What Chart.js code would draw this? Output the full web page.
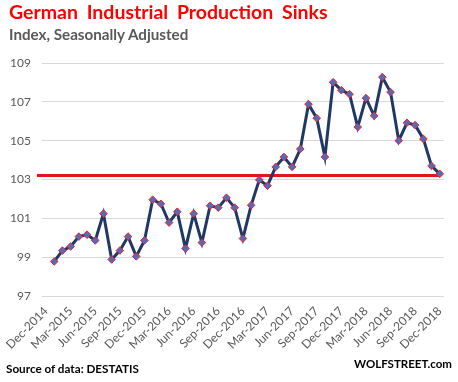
<!DOCTYPE html>
<html>
<head>
<meta charset="utf-8">
<script src="https://cdn.jsdelivr.net/npm/chart.js@4"></script>
<style>
  html, body { margin: 0; padding: 0; background: #fff; }
  #wrap { position: relative; width: 458px; height: 382px; overflow: hidden; font-family: Lato, "Open Sans", sans-serif; }
  canvas { position: absolute; left: 0; top: 0; }
  .txt { position: absolute; white-space: nowrap; line-height: 1; font-weight: bold; }
  #title { left: 9px; top: 2px; font-size: 19.5px; word-spacing: 4px; color: #ff0000; }
  #subtitle { left: 9px; top: 27px; font-size: 15.2px; color: #595959; }
  #source { left: 6px; top: 363px; font-size: 11.7px; color: #000; }
  #brand { right: 6px; top: 358px; font-size: 11.5px; color: #000; }
</style>
</head>
<body>
<div id="wrap">
  <canvas id="c" width="458" height="382"></canvas>
  <div class="txt" id="title">German Industrial Production Sinks</div>
  <div class="txt" id="subtitle">Index, Seasonally Adjusted</div>
  <div class="txt" id="source">Source of data: DESTATIS</div>
  <div class="txt" id="brand">WOLFSTREET.com</div>
</div>
<script>
// Month categories on the axis (Dec-2014 .. Dec-2018)
const categories = [
  'Dec-2014',
  'Jan-2015','Feb-2015','Mar-2015','Apr-2015','May-2015','Jun-2015','Jul-2015','Aug-2015','Sep-2015','Oct-2015','Nov-2015','Dec-2015',
  'Jan-2016','Feb-2016','Mar-2016','Apr-2016','May-2016','Jun-2016','Jul-2016','Aug-2016','Sep-2016','Oct-2016','Nov-2016','Dec-2016',
  'Jan-2017','Feb-2017','Mar-2017','Apr-2017','May-2017','Jun-2017','Jul-2017','Aug-2017','Sep-2017','Oct-2017','Nov-2017','Dec-2017',
  'Jan-2018','Feb-2018','Mar-2018','Apr-2018','May-2018','Jun-2018','Jul-2018','Aug-2018','Sep-2018','Oct-2018','Nov-2018','Dec-2018'
];

// Industrial production index, seasonally adjusted
const productionIndex = [
  null,
  98.78, 99.34, 99.55, 100.06, 100.16, 99.86, 101.24, 98.88, 99.34, 100.06, 99.04, 99.86,
  101.96, 101.75, 100.78, 101.34, 99.45, 101.24, 99.75, 101.65, 101.55, 102.06, 101.55, 99.96,
  101.67, 102.98, 102.68, 103.65, 104.16, 103.65, 104.57, 106.88, 106.16, 104.16, 108.01, 107.60,
  107.39, 105.70, 107.19, 106.28, 108.27, 107.50, 105.00, 105.92, 105.80, 105.09, 103.70, 103.29
];

// Labels shown on the x axis (every third month)
const tickLabels = [
  'Dec-2014','Mar-2015','Jun-2015','Sep-2015','Dec-2015','Mar-2016','Jun-2016','Sep-2016','Dec-2016',
  'Mar-2017','Jun-2017','Sep-2017','Dec-2017','Mar-2018','Jun-2018','Sep-2018','Dec-2018'
];

// Y axis ticks
const yTicks = [97, 99, 101, 103, 105, 107, 109];

// Red reference line level (latest reading)
const referenceLevel = 103.2;

const refLinePlugin = {
  id: 'refLine',
  beforeDatasetsDraw(chart) {
    const { ctx, chartArea, scales } = chart;
    const y = scales.y.getPixelForValue(referenceLevel);
    const xEnd = scales.x.getPixelForValue(categories.length - 1);
    ctx.save();
    ctx.strokeStyle = '#e8131b';
    ctx.lineWidth = 3;
    ctx.beginPath();
    ctx.moveTo(chartArea.left - 5, y);
    ctx.lineTo(xEnd, y);
    ctx.stroke();
    ctx.restore();
  }
};

new Chart(document.getElementById('c'), {
  type: 'line',
  data: {
    labels: categories,
    datasets: [{
      data: productionIndex,
      borderColor: '#1f3864',
      borderWidth: 3,
      tension: 0,
      pointStyle: 'rectRot',
      pointRadius: 3.8,
      pointBackgroundColor: '#4a6fc0',
      pointBorderColor: '#ff1a1a',
      pointBorderWidth: 1,
      spanGaps: false
    }]
  },
  options: {
    responsive: false,
    devicePixelRatio: 1,
    animation: false,
    layout: { padding: { left: 0, right: 8, top: 63, bottom: 0 } },
    plugins: { legend: { display: false }, tooltip: { enabled: false }, title: { display: false } },
    scales: {
      x: {
        offset: true,
        grid: { display: false, drawTicks: false },
        border: { display: false },
        afterFit(s) { s.height = 86; },
        ticks: {
          autoSkip: false,
          minRotation: 45,
          maxRotation: 45,
          padding: 8,
          color: '#595959',
          font: { family: 'Lato', size: 12 },
          callback(v, i) { return i % 3 === 0 ? tickLabels[i / 3] : ''; }
        }
      },
      y: {
        min: yTicks[0],
        max: yTicks[yTicks.length - 1],
        afterFit(s) { s.width = 39; },
        afterBuildTicks(s) { s.ticks = yTicks.map(v => ({ value: v })); },
        grid: { color: '#d9d9d9', lineWidth: 1, drawTicks: false },
        border: { display: false },
        ticks: {
          padding: 11,
          color: '#595959',
          font: { family: 'Lato', size: 12 }
        }
      }
    }
  },
  plugins: [refLinePlugin]
});
</script>
</body>
</html>
